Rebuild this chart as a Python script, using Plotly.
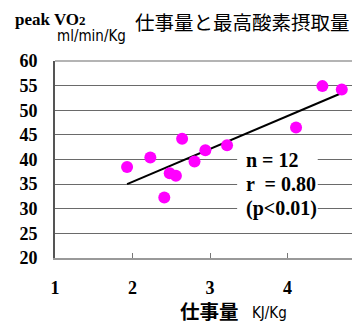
import plotly.graph_objects as go

work = [1.93, 2.23, 2.41, 2.48, 2.56, 2.64, 2.80, 2.94, 3.22, 4.11, 4.45, 4.70]
vo2 = [38.5, 40.4, 32.3, 37.2, 36.7, 44.2, 39.6, 41.9, 42.9, 46.5, 54.9, 54.2]
fit_x = [1.93, 4.70]
fit_y = [35.0, 53.5]
stats = ["n = 12", "r  = 0.80", "(p<0.01)"]
stats_y = [40, 35, 30]
x_ticks = [1, 2, 3, 4]
y_ticks = [20, 25, 30, 35, 40, 45, 50, 55, 60]

serif = "Liberation Serif"
cjk = "Noto Sans CJK JP"
cond = "DejaVu Sans Condensed, DejaVu Sans"

fig = go.Figure()
fig.add_trace(go.Scatter(x=fit_x, y=fit_y, mode="lines",
                         line=dict(color="black", width=2), hoverinfo="skip"))
fig.add_trace(go.Scatter(x=work, y=vo2, mode="markers",
                         marker=dict(color="#ff00ff", size=12)))

fig.add_shape(type="rect", xref="x", yref="y", x0=3.35, x1=4.39, y0=28, y1=42,
              fillcolor="white", line=dict(width=0), layer="between")
fig.add_shape(type="line", xref="paper", yref="paper", x0=0, x1=1, y0=1, y1=1,
              line=dict(color="#b4b4b4", width=2))

for t, yv in zip(stats, stats_y):
    fig.add_annotation(x=3.44, y=yv, xref="x", yref="y", text=t,
                       showarrow=False, xanchor="left", yanchor="middle",
                       font=dict(family=serif, size=20, color="black", weight="bold"))

fig.update_layout(
    width=352, height=324,
    margin=dict(l=55, r=0, t=61, b=66, autoexpand=False),
    plot_bgcolor="white", paper_bgcolor="white",
    showlegend=False,
    xaxis=dict(range=[1, 4.832], tickvals=x_ticks, ticks="inside", ticklen=5,
               tickcolor="#777", showgrid=False, zeroline=False,
               showline=True, linecolor="#999", linewidth=2,
               tickfont=dict(family=serif, size=18, color="black", weight="bold"),
               ticklabelstandoff=12, automargin=False),
    yaxis=dict(range=[20, 60], tickvals=y_ticks, showgrid=True, gridcolor="#6a6a6a",
               gridwidth=1, zeroline=False, showline=True, linecolor="#555",
               linewidth=2, ticks="", ticklabelstandoff=12, automargin=False,
               tickfont=dict(family=serif, size=18, color="black", weight="bold")),
)

pl, pt, pw, ph = 55, 61, 297, 197
def px(x): return (x - pl) / pw
def py(y): return (pt + ph - y) / ph

fig.add_annotation(x=px(13), y=py(19), xref="paper", yref="paper",
                   text="peak VO<span style='font-size:13px'>2</span>", showarrow=False,
                   xanchor="left", yanchor="middle",
                   font=dict(family=serif, size=17, color="black", weight="bold"))
fig.add_annotation(x=px(55), y=py(36), xref="paper", yref="paper",
                   text="ml/min/Kg", showarrow=False, xanchor="left", yanchor="middle",
                   font=dict(family=cond, size=15, color="black"))
fig.add_annotation(x=px(133), y=py(22), xref="paper", yref="paper",
                   text="仕事量と最高酸素摂取量", showarrow=False,
                   xanchor="left", yanchor="middle",
                   font=dict(family=cjk, size=19.5, color="black"))
fig.add_annotation(x=px(178), y=py(310), xref="paper", yref="paper",
                   text="仕事量", showarrow=False,
                   xanchor="left", yanchor="middle",
                   font=dict(family=cjk, size=19.5, color="black", weight="bold"))
fig.add_annotation(x=px(250), y=py(313), xref="paper", yref="paper",
                   text="KJ/Kg", showarrow=False,
                   xanchor="left", yanchor="middle",
                   font=dict(family=cond, size=15, color="black"))

fig.write_html("out.html", config={"displayModeBar": False},
               post_script="document.body.style.margin='0';document.body.style.overflow='hidden';")
